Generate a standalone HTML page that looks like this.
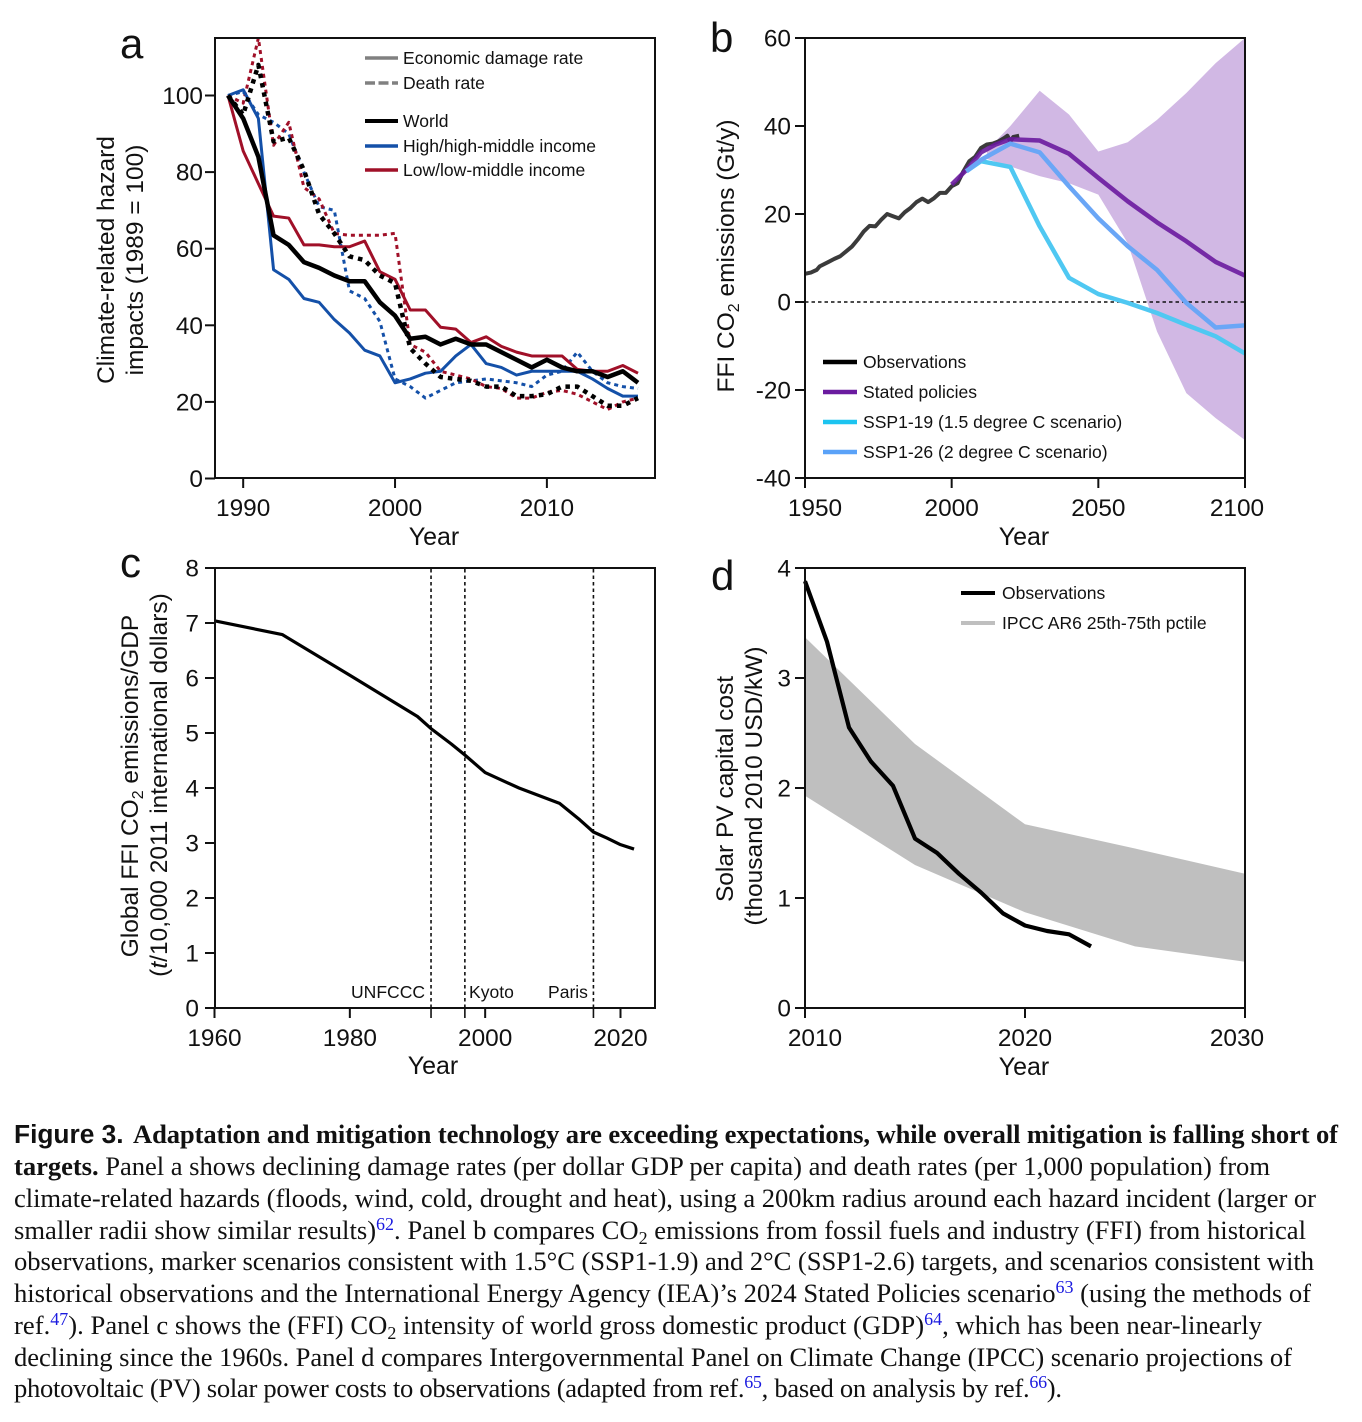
<!DOCTYPE html>
<html lang="en">
<head>
<meta charset="utf-8">
<title>Figure 3</title>
<style>
html,body{margin:0;padding:0;background:#fff;width:1362px;height:1422px;overflow:hidden}
svg{display:block;position:absolute;left:0;top:0}
text{font-family:"Liberation Sans",Arial,sans-serif;fill:#111}
.tick{font-size:24.4px}
.title{font-size:24.5px}
.xtitle{font-size:25px}
.leg{font-size:17.55px}
.letter{font-size:42px}
.cap{font-family:"Liberation Serif","Times New Roman",serif;font-size:26.6px;fill:#111}
.capb{font-weight:bold}
.capf{font-family:"Liberation Sans",Arial,sans-serif;font-weight:bold;font-size:26.3px}
.blue{fill:#1a1adf}
</style>
</head>
<body>
<svg id="fig" width="1362" height="1422" viewBox="0 0 1362 1422" xmlns="http://www.w3.org/2000/svg">
<defs>
<clipPath id="clip-a"><rect x="215" y="38" width="440" height="440"/></clipPath>
<clipPath id="clip-b"><rect x="805" y="38" width="440" height="440"/></clipPath>
</defs>

<g id="panel-a">
<g id="a-marks" clip-path="url(#clip-a)"></g>
<g id="a-axes"></g>
<text class="letter" x="120" y="58">a</text>
<text class="title" transform="translate(114,260) rotate(-90)" text-anchor="middle">Climate-related hazard</text>
<text class="title" transform="translate(143,260) rotate(-90)" text-anchor="middle">impacts (1989 = 100)</text>
<text class="xtitle" x="434" y="545" text-anchor="middle">Year</text>
<g>
<line x1="365" x2="398" y1="58" y2="58" stroke="#808080" stroke-width="3.5"/>
<text class="leg" x="403" y="64">Economic damage rate</text>
<line x1="365" x2="398" y1="83" y2="83" stroke="#808080" stroke-width="3.5" stroke-dasharray="10 3.5"/>
<text class="leg" x="403" y="89">Death rate</text>
<line x1="365" x2="398" y1="121" y2="121" stroke="#000" stroke-width="4"/>
<text class="leg" x="403" y="127">World</text>
<line x1="365" x2="398" y1="146" y2="146" stroke="#1450a8" stroke-width="3.5"/>
<text class="leg" x="403" y="152">High/high-middle income</text>
<line x1="365" x2="398" y1="170" y2="170" stroke="#a01028" stroke-width="3.5"/>
<text class="leg" x="403" y="176">Low/low-middle income</text>
</g>
</g>

<g id="panel-b">
<g id="b-marks" clip-path="url(#clip-b)"></g>
<g id="b-axes"></g>
<text class="letter" x="710" y="52">b</text>
<text class="title" transform="translate(734,256) rotate(-90)" text-anchor="middle">FFI CO<tspan font-size="16" dy="5">2</tspan><tspan dy="-5"> emissions (Gt/y)</tspan></text>
<text class="xtitle" x="1024" y="545" text-anchor="middle">Year</text>
<g>
<line x1="823" x2="857" y1="362" y2="362" stroke="#000" stroke-width="4.5"/>
<text class="leg" x="863" y="368">Observations</text>
<line x1="823" x2="857" y1="392" y2="392" stroke="#6a1b9f" stroke-width="4.5"/>
<text class="leg" x="863" y="398">Stated policies</text>
<line x1="823" x2="857" y1="422" y2="422" stroke="#1cc4f0" stroke-width="4.5"/>
<text class="leg" x="863" y="428">SSP1-19 (1.5 degree C scenario)</text>
<line x1="823" x2="857" y1="452" y2="452" stroke="#5aa2f8" stroke-width="4.5"/>
<text class="leg" x="863" y="458">SSP1-26 (2 degree C scenario)</text>
</g>
</g>

<g id="panel-c">
<g id="c-marks"></g>
<g id="c-axes"></g>
<text class="letter" x="120" y="577">c</text>
<text class="title" transform="translate(138,786) rotate(-90)" text-anchor="middle">Global FFI CO<tspan font-size="16" dy="5">2</tspan><tspan dy="-5"> emissions/GDP</tspan></text>
<text class="title" transform="translate(167,785) rotate(-90)" text-anchor="middle">(<tspan font-style="italic">t</tspan>/10,000 2011 international dollars)</text>
<text class="xtitle" x="433" y="1074" text-anchor="middle">Year</text>
<text class="leg" x="351" y="998">UNFCCC</text>
<text class="leg" x="469" y="998">Kyoto</text>
<text class="leg" x="548" y="998">Paris</text>
</g>

<g id="panel-d">
<g id="d-marks"></g>
<g id="d-axes"></g>
<text class="letter" x="711" y="590">d</text>
<text class="title" transform="translate(733,789) rotate(-90)" text-anchor="middle">Solar PV capital cost</text>
<text class="title" transform="translate(762,786) rotate(-90)" text-anchor="middle">(thousand 2010 USD/kW)</text>
<text class="xtitle" x="1024" y="1075" text-anchor="middle">Year</text>
<g>
<line x1="961" x2="995" y1="593" y2="593" stroke="#000" stroke-width="4"/>
<text class="leg" x="1002" y="599">Observations</text>
<line x1="961" x2="995" y1="623" y2="623" stroke="#bfbfbf" stroke-width="4"/>
<text class="leg" x="1002" y="629">IPCC AR6 25th-75th pctile</text>
</g>
</g>

<g id="caption">
<text class="cap capf" x="14" y="1143">Figure 3.</text>
<text class="cap capb" x="133" y="1143" textLength="1205" lengthAdjust="spacing">Adaptation and mitigation technology are exceeding expectations, while overall mitigation is falling short of</text>
<text class="cap" x="14" y="1175" textLength="1256" lengthAdjust="spacing"><tspan class="capb">targets.</tspan> Panel a shows declining damage rates (per dollar GDP per capita) and death rates (per 1,000 population) from</text>
<text class="cap" x="14" y="1207" textLength="1302" lengthAdjust="spacing">climate-related hazards (floods, wind, cold, drought and heat), using a 200km radius around each hazard incident (larger or</text>
<text class="cap" x="14" y="1239" textLength="1292" lengthAdjust="spacing">smaller radii show similar results)<tspan class="blue" font-size="18" dy="-9">62</tspan><tspan dy="9">. Panel b compares CO</tspan><tspan font-size="18" dy="5">2</tspan><tspan dy="-5"> emissions from fossil fuels and industry (FFI) from historical</tspan></text>
<text class="cap" x="14" y="1270" textLength="1300" lengthAdjust="spacing">observations, marker scenarios consistent with 1.5°C (SSP1-1.9) and 2°C (SSP1-2.6) targets, and scenarios consistent with</text>
<text class="cap" x="14" y="1302" textLength="1297" lengthAdjust="spacing">historical observations and the International Energy Agency (IEA)’s 2024 Stated Policies scenario<tspan class="blue" font-size="18" dy="-9">63</tspan><tspan dy="9"> (using the methods of</tspan></text>
<text class="cap" x="14" y="1334" textLength="1248" lengthAdjust="spacing">ref.<tspan class="blue" font-size="18" dy="-9">47</tspan><tspan dy="9">). Panel c shows the (FFI) CO</tspan><tspan font-size="18" dy="5">2</tspan><tspan dy="-5"> intensity of world gross domestic product (GDP)</tspan><tspan class="blue" font-size="18" dy="-9">64</tspan><tspan dy="9">, which has been near-linearly</tspan></text>
<text class="cap" x="14" y="1366" textLength="1278" lengthAdjust="spacing">declining since the 1960s. Panel d compares Intergovernmental Panel on Climate Change (IPCC) scenario projections of</text>
<text class="cap" x="14" y="1397" textLength="1048" lengthAdjust="spacing">photovoltaic (PV) solar power costs to observations (adapted from ref.<tspan class="blue" font-size="18" dy="-9">65</tspan><tspan dy="9">, based on analysis by ref.</tspan><tspan class="blue" font-size="18" dy="-9">66</tspan><tspan dy="9">).</tspan></text>
</g>
</svg>

<script>
// Panel a data
const aYears = [1989,1990,1991,1992,1993,1994,1995,1996,1997,1998,1999,2000,2001,2002,2003,2004,2005,2006,2007,2008,2009,2010,2011,2012,2013,2014,2015,2016];
const aWorldDamage = [100,94,84,63.5,61,56.5,55,53,51.5,51.5,46,42.5,36.5,37,35,36.5,35,35,33,31,29,31,29,28,28,26.5,28,25];
const aHighDamage = [100,101.5,94,54.5,52,47,46,41.5,38,33.5,32,25,26,27.5,28,32,35,30,29,27,28,28,28,28,26,23.5,21.5,21.5];
const aLowDamage = [100,85.5,77,68.5,68,61,61,60.5,60.5,62,54,52,44,44,39.5,39,35.5,37,34.5,33,32,32,32,28.5,28,28,29.5,27.5];
const aWorldDeath = [100,95,108,88,89,80.5,69,64,58,57,53,51,34,30,26.5,26,25.5,24,24,21.5,21.5,22,24,24,21.5,19,19,21];
const aHighDeath = [100,101,95,93,90,80,71,70,49,47,41,26,24,21,23,25,25.5,26,25.5,25,24,27,28,33,28,25,24,23.5];
const aLowDeath = [100,98,115,87,93,76,73,64,63.5,63.5,63.5,64,35,33,28,27,26,24,23.5,21,21,22.5,23,22,20,18,20,21];
const aYTicks = [0,20,40,60,80,100];
const aXTicks = [1990,2000,2010];

// Panel b data
const bObsYears = [1950,1952,1954,1955,1958,1960,1962,1964,1966,1968,1970,1972,1974,1976,1978,1980,1982,1984,1986,1988,1990,1992,1994,1996,1998,2000,2002,2004,2006,2008,2010,2012,2014,2016,2018,2019,2020,2021,2023];
const bObs = [6.4,6.7,7.3,8.1,9.1,9.8,10.4,11.5,12.6,14.2,16,17.3,17.2,18.7,20,19.5,19,20.4,21.4,22.7,23.5,22.7,23.6,24.8,24.8,26.3,27,29.7,32,33,35,35.8,36,36.5,37.3,37.8,36.5,37.5,37.8];
const bPolicyYears = [2000,2005,2010,2015,2020,2030,2040,2050,2060,2070,2080,2090,2100];
const bPolicy = [26.7,30,34,35.8,37,36.7,33.7,28.2,22.9,18.1,13.8,9.1,6];
const bSspYears = [2005,2010,2020,2030,2040,2050,2060,2070,2080,2090,2100];
const bSsp119 = [29.7,32,30.7,17.2,5.5,1.8,-0.2,-2.5,-5.2,-7.8,-11.7];
const bSsp126 = [29.7,32.3,36,34,26.3,19,12.7,7.3,-0.2,-5.8,-5.3];
const bBandYears = [2012,2020,2030,2040,2050,2060,2070,2080,2090,2100];
const bBandHigh = [34.5,40,48,42.6,34.2,36.3,41.4,47.5,54.3,60];
const bBandLow = [32.5,30.8,28.6,27,24.4,13.4,-6.7,-20.7,-26.4,-31.4];
const bYTicks = [-40,-20,0,20,40,60];
const bXTicks = [1950,2000,2050,2100];

// Panel c data
const cYears = [1960,1970,1980,1990,1992,1995,1997,2000,2005,2011,2014,2016,2018,2020,2022];
const cIntensity = [7.04,6.79,6.05,5.3,5.08,4.8,4.6,4.28,4.0,3.72,3.42,3.2,3.09,2.97,2.89];
const cYTicks = [0,1,2,3,4,5,6,7,8];
const cXTicks = [1960,1980,2000,2020];
const cEventYears = [1992,1997,2016];

// Panel d data
const dYears = [2010,2011,2012,2013,2014,2015,2016,2017,2018,2019,2020,2021,2022,2023];
const dCost = [3.88,3.33,2.55,2.24,2.02,1.54,1.41,1.22,1.05,0.86,0.75,0.70,0.67,0.56];
const dBandYears = [2010,2015,2020,2025,2030];
const dBandHigh = [3.37,2.4,1.67,1.45,1.22];
const dBandLow = [1.93,1.3,0.87,0.56,0.42];
const dYTicks = [0,1,2,3,4];
const dXTicks = [2010,2020,2030];

const NS = 'http://www.w3.org/2000/svg';
function mk(parent, tag, attrs, name) {
  const el = document.createElementNS(NS, tag);
  for (const k in attrs) el.setAttribute(k, attrs[k]);
  
  
  parent.appendChild(el);
  return el;
}
function linear(d0, d1, r0, r1) { return v => r0 + (v - d0) * (r1 - r0) / (d1 - d0); }
function pathOf(xs, ys, sx, sy) {
  return xs.map((x, i) => (i ? 'L' : 'M') + sx(x).toFixed(2) + ' ' + sy(ys[i]).toFixed(2)).join('');
}
function drawLine(g, xs, ys, sx, sy, stroke, width, name, dash, opacity) {
  const attrs = {d: pathOf(xs, ys, sx, sy), fill: 'none', stroke: stroke, 'stroke-width': width, 'stroke-linejoin': 'round'};
  if (dash) attrs['stroke-dasharray'] = dash;
  if (opacity) attrs['stroke-opacity'] = opacity;
  return mk(g, 'path', attrs, name);
}
function drawBand(g, xs, hi, lo, sx, sy, fill, name) {
  const top = xs.map((x, i) => sx(x).toFixed(2) + ',' + sy(hi[i]).toFixed(2));
  const bot = xs.map((x, i) => sx(x).toFixed(2) + ',' + sy(lo[i]).toFixed(2)).reverse();
  return mk(g, 'polygon', {points: top.concat(bot).join(' '), fill: fill}, name);
}
function drawAxes(g, box, sx, sy, xTicks, yTicks, yLabelX, shiftEdges, prefix) {
  mk(g, 'rect', {x: box.x, y: box.y, width: box.w, height: box.h, fill: 'none', stroke: '#111', 'stroke-width': 2}, prefix + '-frame');
  xTicks.forEach((t, i) => {
    mk(g, 'line', {x1: sx(t), x2: sx(t), y1: box.y + box.h, y2: box.y + box.h + 10, stroke: '#111', 'stroke-width': 2}, prefix + '-x-tick');
    let cx = sx(t);
    if (shiftEdges && i === 0) cx += 10;
    if (shiftEdges && i === xTicks.length - 1) cx -= 8;
    const tx = mk(g, 'text', {x: cx, y: box.y + box.h + 38, 'text-anchor': 'middle', class: 'tick'}, prefix + '-x-tick-label');
    tx.textContent = t;
  });
  yTicks.forEach(t => {
    mk(g, 'line', {x1: box.x - 10, x2: box.x, y1: sy(t), y2: sy(t), stroke: '#111', 'stroke-width': 2}, prefix + '-y-tick');
    const tx = mk(g, 'text', {x: yLabelX, y: sy(t) + 8.5, 'text-anchor': 'end', class: 'tick'}, prefix + '-y-tick-label');
    tx.textContent = t;
  });
}

// Panel a
const ax = linear(1989, 2016, 228, 638);
const ay = linear(0, 100, 478.5, 95.5);
const aG = document.getElementById('a-marks');
drawLine(aG, aYears, aHighDeath, ax, ay, '#1450a8', 3, 'line-high-death-rate', '4 4');
drawLine(aG, aYears, aLowDeath, ax, ay, '#a01028', 3, 'line-low-death-rate', '4 4');
drawLine(aG, aYears, aHighDamage, ax, ay, '#1450a8', 3, 'line-high-damage-rate');
drawLine(aG, aYears, aLowDamage, ax, ay, '#a01028', 3, 'line-low-damage-rate');
drawLine(aG, aYears, aWorldDamage, ax, ay, '#000', 4.5, 'line-world-damage-rate');
drawLine(aG, aYears, aWorldDeath, ax, ay, '#000', 4.5, 'line-world-death-rate', '4.5 5');
drawAxes(document.getElementById('a-axes'), {x: 215, y: 38, w: 440, h: 440}, ax, ay, aXTicks, aYTicks, 203, false, 'a');

// Panel b
const bx = linear(1950, 2100, 805, 1245);
const by = linear(-40, 60, 478, 38);
const bG = document.getElementById('b-marks');
drawBand(bG, bBandYears, bBandHigh, bBandLow, bx, by, '#d1b8e4', 'stated-policies-range');
drawLine(bG, [1950, 2100], [0, 0], bx, by, '#111', 1.6, 'zero-line', '3.5 3');
drawLine(bG, bObsYears, bObs, bx, by, '#2a2a2a', 4, 'line-observations', null, 0.92);
drawLine(bG, bPolicyYears, bPolicy, bx, by, '#6a1b9f', 4.5, 'line-stated-policies', null, 0.9);
drawLine(bG, bSspYears, bSsp119, bx, by, '#4fc8f2', 4.5, 'line-ssp1-19');
drawLine(bG, bSspYears, bSsp126, bx, by, '#6aa6f6', 4.5, 'line-ssp1-26');
drawAxes(document.getElementById('b-axes'), {x: 805, y: 38, w: 440, h: 440}, bx, by, bXTicks, bYTicks, 791, true, 'b');

// Panel c
const cx = linear(1960, 2020, 214.5, 620.5);
const cy = linear(0, 8, 1008, 568);
const cG = document.getElementById('c-marks');
cEventYears.forEach(year => {
  drawLine(cG, [year, year], [0, 8], cx, cy, '#111', 1.6, 'event-line', '3.5 3');
  mk(cG, 'line', {x1: cx(year), x2: cx(year), y1: 1008, y2: 1018, stroke: '#111', 'stroke-width': 1.6}, 'event-tick');
});
drawLine(cG, cYears, cIntensity, cx, cy, '#000', 3.2, 'line-co2-intensity');
drawAxes(document.getElementById('c-axes'), {x: 215, y: 568, w: 440, h: 440}, cx, cy, cXTicks, cYTicks, 199, false, 'c');

// Panel d
const dx = linear(2010, 2030, 805, 1245);
const dy = linear(0, 4, 1008, 568);
const dG = document.getElementById('d-marks');
drawBand(dG, dBandYears, dBandHigh, dBandLow, dx, dy, '#bfbfbf', 'ipcc-range');
drawLine(dG, dYears, dCost, dx, dy, '#000', 4.2, 'line-pv-observations');
drawAxes(document.getElementById('d-axes'), {x: 805, y: 568, w: 440, h: 440}, dx, dy, dXTicks, dYTicks, 791, true, 'd');
</script>
</body>
</html>
